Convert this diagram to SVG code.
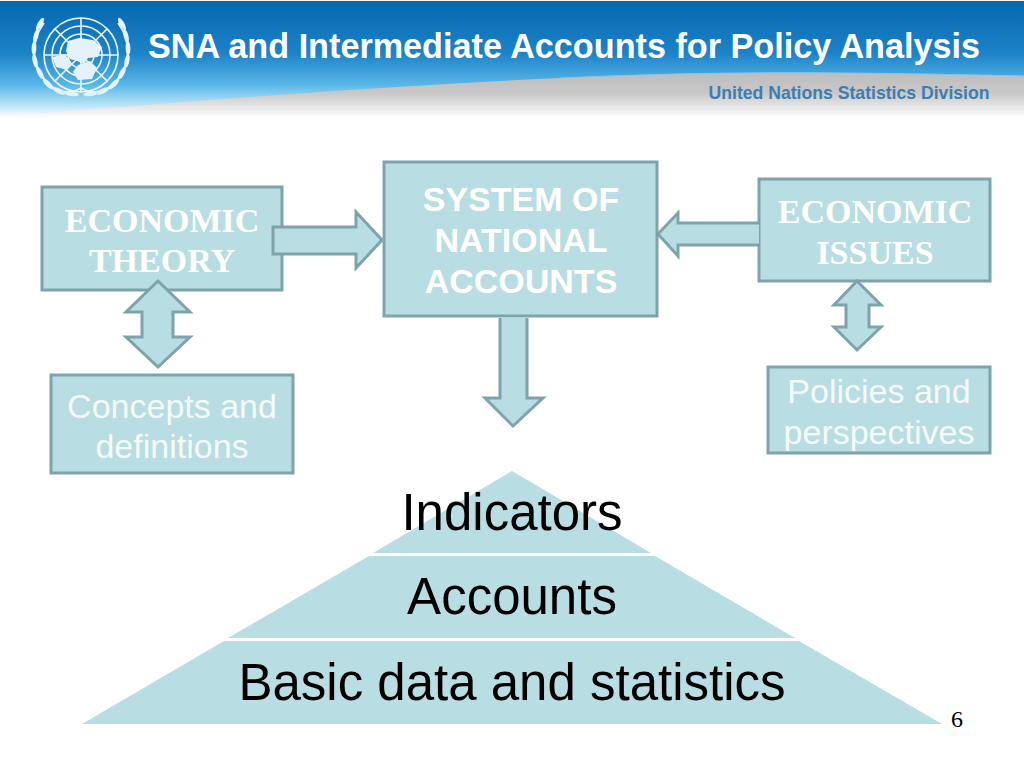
<svg xmlns="http://www.w3.org/2000/svg" width="1024" height="768" viewBox="0 0 1024 768">
<style>
.box{fill:#b8dde2;stroke:#7fa3aa;stroke-width:3;stroke-linejoin:miter}
.arr{fill:#b8dde2;stroke:#7fa3aa;stroke-width:3;stroke-linejoin:miter}
.sans{font-family:"Liberation Sans",Arial,sans-serif;text-anchor:middle}
.serif{font-family:"Liberation Serif","Times New Roman",serif;text-anchor:middle;font-weight:bold;font-size:34px;fill:#fff}
.boldw{font-weight:bold;font-size:34px;fill:#fff}
.thin{font-size:34px;fill:#f4fafb}
.pyr{font-size:51px;fill:#000}
.lg{fill:none;stroke:#eef6fb;stroke-width:1.6}
.leaf{fill:#e6f2f9;stroke:none}
</style>
<defs>
<linearGradient id="blue" x1="0" y1="0" x2="0" y2="1">
<stop offset="0" stop-color="#0667ae"/>
<stop offset="0.45" stop-color="#1d83c9"/>
<stop offset="0.72" stop-color="#5ab8e8"/>
<stop offset="0.88" stop-color="#b5e1f5"/>
<stop offset="1" stop-color="#ffffff"/>
</linearGradient>
<linearGradient id="gray" x1="0" y1="0" x2="0" y2="1">
<stop offset="0" stop-color="#bdbdbd"/>
<stop offset="0.45" stop-color="#c8c8c8"/>
<stop offset="1" stop-color="#ffffff"/>
</linearGradient>
<g id="wreath">
<path class="lg" d="M-37 -32C-52 -12 -50 16 -27 33C-18 38 -8 38 0 33"/>
<ellipse class="leaf" cx="-41" cy="-31" rx="2.4" ry="7" transform="rotate(30 -41 -31)"/>
<ellipse class="leaf" cx="-45" cy="-19" rx="2.4" ry="7" transform="rotate(15 -45 -19)"/>
<ellipse class="leaf" cx="-47" cy="-7" rx="2.4" ry="7" transform="rotate(2 -47 -7)"/>
<ellipse class="leaf" cx="-46" cy="6" rx="2.4" ry="7" transform="rotate(-12 -46 6)"/>
<ellipse class="leaf" cx="-41" cy="18" rx="2.4" ry="7" transform="rotate(-28 -41 18)"/>
<ellipse class="leaf" cx="-33" cy="29" rx="2.4" ry="7" transform="rotate(-45 -33 29)"/>
<ellipse class="leaf" cx="-22" cy="36" rx="2.4" ry="7" transform="rotate(-65 -22 36)"/>
<ellipse class="leaf" cx="-9" cy="39" rx="2.2" ry="7" transform="rotate(-85 -9 39)"/>
</g>
</defs>

<g id="header">
<rect x="0" y="1" width="1024" height="117" fill="url(#blue)"/>
<path d="M0 118L0 116C130 108 300 90 560 78C700 72 800 71 1024 76L1024 118Z" fill="url(#gray)"/>
<path d="M560 78C700 72 800 71 1024 76" fill="none" stroke="#8cc4e6" stroke-width="1"/>
</g>

<g id="logo" transform="translate(81 55)">
<circle class="lg" r="37"/>
<circle class="lg" r="29"/>
<circle class="lg" r="21"/>
<circle class="lg" r="13"/>
<path class="lg" d="M-37 0H37M0 -37V37M-26 -26L26 26M26 -26L-26 26"/>
<path class="leaf" d="M-13 -14L-2 -17L12 -15L21 -8L17 2L7 3L3 9L-4 6L-11 4L-15 -4Z"/>
<path class="leaf" d="M-29 2L-16 -1L-10 8L-14 15L-25 12Z"/>
<path class="leaf" d="M-3 10L9 6L16 13L11 24L-3 25L-8 17Z"/>
<use href="#wreath"/>
<use href="#wreath" transform="scale(-1 1)"/>
</g>

<text id="title" class="sans" x="564" y="58" font-size="34.2" font-weight="bold" fill="#fff">SNA and Intermediate Accounts for Policy Analysis</text>
<text id="division" class="sans" x="849" y="99" font-size="19" font-weight="bold" fill="#3f7cb0" textLength="281" lengthAdjust="spacingAndGlyphs">United Nations Statistics Division</text>

<g id="economic-theory">
<rect class="box" x="42" y="187" width="240" height="103"/>
<text class="serif" x="162" y="232">ECONOMIC</text>
<text class="serif" x="162" y="272">THEORY</text>
</g>
<g id="sna">
<rect class="box" x="384" y="162" width="273" height="154"/>
<text class="sans boldw" x="521" y="211">SYSTEM OF</text>
<text class="sans boldw" x="521" y="252">NATIONAL</text>
<text class="sans boldw" x="521" y="293">ACCOUNTS</text>
</g>
<g id="economic-issues">
<rect class="box" x="759" y="179" width="231" height="102"/>
<text class="serif" x="875" y="223">ECONOMIC</text>
<text class="serif" x="875" y="264">ISSUES</text>
</g>
<g id="concepts">
<rect class="box" x="51" y="375" width="242" height="98"/>
<text class="sans thin" x="172" y="418">Concepts and</text>
<text class="sans thin" x="172" y="458">definitions</text>
</g>
<g id="policies">
<rect class="box" x="768" y="367" width="222" height="86"/>
<text class="sans thin" x="879" y="403">Policies and</text>
<text class="sans thin" x="879" y="444">perspectives</text>
</g>

<g id="connectors">
<path class="arr" d="M273 227H356V212L382 240L356 268V254H273Z"/>
<path class="arr" d="M759 223H678V213L658 234L678 256V245H759"/>
<path class="arr" d="M500 318V398H485L513 426L543 398H527V318"/>
<path class="arr" d="M158 281L190 312H173V337H190L158 367L126 337H142V312H126Z"/>
<path class="arr" d="M857 281L881 305H869V327H881L857 350L834 327H846V305H834Z"/>
</g>

<g id="pyramid">
<path id="indicators" d="M512 471L651 553H373Z" fill="#b8dde2"/>
<path id="accounts" d="M369 556H655L795 638H228Z" fill="#b8dde2"/>
<path id="basic" d="M224 641H799L942 724H82Z" fill="#b8dde2"/>
<text class="sans pyr" x="512" y="530">Indicators</text>
<text class="sans pyr" x="512" y="614">Accounts</text>
<text class="sans pyr" x="512" y="700">Basic data and statistics</text>
</g>

<text id="page" x="957" y="727" font-family="'Liberation Serif','Times New Roman',serif" font-size="24" text-anchor="middle" fill="#000">6</text>
</svg>
